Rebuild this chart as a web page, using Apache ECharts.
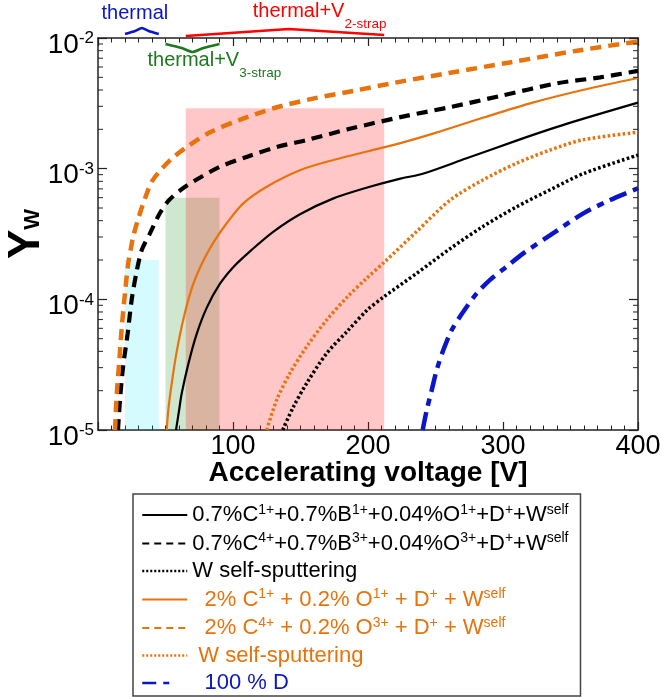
<!DOCTYPE html>
<html><head><meta charset="utf-8">
<script src="https://cdn.jsdelivr.net/npm/echarts@6/dist/echarts.min.js"></script>
<style>html,body{margin:0;padding:0;background:#fff}#c{width:662px;height:697px}</style>
</head><body><div id="c"></div>
<script>
const SANS = "'Liberation Sans',Arial,sans-serif";

// ---- data (x: accelerating voltage [V], y: Y_W) ----
const ksX = [57.8, 60, 62, 66.9, 73, 80.5, 90, 101, 114, 130, 150, 174, 200, 224, 240, 273, 310, 347, 400];
const ksY = [1e-5, 1.4e-5, 1.9e-5, 3.2e-5, 5.4e-5, 8.6e-5, 1.3e-4, 1.8e-4, 2.4e-4, 3.3e-4, 4.5e-4, 5.9e-4, 7.2e-4, 8.4e-4, 9.1e-4, 1.2e-3, 1.64e-3, 2.2e-3, 3.2e-3];

const kdX = [14.8, 16.3, 18.5, 22, 25, 28.7, 32.5, 38.5, 46, 53, 64, 76, 90, 110, 133, 155, 185, 224, 261, 298, 340, 372, 400];
const kdY = [1e-5, 1.7e-5, 3e-5, 5.5e-5, 1e-4, 1.65e-4, 2.4e-4, 3.2e-4, 4.6e-4, 5.8e-4, 7.2e-4, 8.6e-4, 1.03e-3, 1.23e-3, 1.47e-3, 1.66e-3, 2.0e-3, 2.48e-3, 2.96e-3, 3.6e-3, 4.5e-3, 5.0e-3, 5.6e-3];

const ktX = [136.8, 144.7, 154.6, 169.4, 185, 199, 212, 236, 261, 285, 310, 335, 360, 400];
const ktY = [1e-5, 1.5e-5, 2.28e-5, 3.86e-5, 5.75e-5, 8.2e-5, 1.05e-4, 1.58e-4, 2.45e-4, 3.6e-4, 5.1e-4, 6.9e-4, 9.2e-4, 1.27e-3];

const osX = [50.9, 52.1, 54.6, 58.3, 63.5, 70, 77, 85, 95.3, 107.6, 125, 150, 175, 200, 224, 250, 285, 322, 359, 400];
const osY = [1e-5, 1.43e-5, 2.27e-5, 3.98e-5, 7.24e-5, 1.26e-4, 1.88e-4, 2.67e-4, 3.82e-4, 5.43e-4, 7.28e-4, 9.77e-4, 1.17e-3, 1.36e-3, 1.57e-3, 1.88e-3, 2.45e-3, 3.2e-3, 4.0e-3, 4.94e-3];

const odX = [12.6, 13.9, 15.8, 17.6, 20, 22.4, 24.2, 26, 30, 35, 40, 47, 55, 66, 83, 105, 130, 160, 190, 220, 260, 305, 355, 400];
const odY = [1e-5, 1.9e-5, 3.4e-5, 6.1e-5, 1.12e-4, 1.89e-4, 2.4e-4, 3.0e-4, 4.2e-4, 6.0e-4, 8.0e-4, 9.9e-4, 1.2e-3, 1.47e-3, 1.9e-3, 2.36e-3, 2.9e-3, 3.45e-3, 3.95e-3, 4.55e-3, 5.4e-3, 6.5e-3, 8.0e-3, 9.4e-3];

const otX = [125, 132.4, 142.2, 154.6, 169.4, 185, 199, 212, 236, 261, 285, 310, 335, 359, 400];
const otY = [1e-5, 1.7e-5, 2.72e-5, 4.35e-5, 6.95e-5, 1.05e-4, 1.45e-4, 1.92e-4, 3.3e-4, 5.76e-4, 8.18e-4, 1.1e-3, 1.39e-3, 1.66e-3, 1.9e-3];

const bdX = [240.5, 243.5, 247.2, 250.9, 255.8, 262, 270.6, 280.5, 290.4, 302.7, 315, 335, 359.5, 379.3, 400];
const bdY = [1e-5, 1.42e-5, 2.02e-5, 2.88e-5, 4.09e-5, 5.82e-5, 8.04e-5, 1.11e-4, 1.41e-4, 1.78e-4, 2.25e-4, 3.1e-4, 4.55e-4, 5.75e-4, 7.08e-4];

// voltage bands (thermal, thermal+V3-strap, thermal+V2-strap)
const bandX0 = [20, 50, 65];
const bandX1 = [45, 90, 212];
const bandTop = [2e-4, 6e-4, 2.9e-3];

const xTicks = [0, 100, 200, 300, 400];
const yDecades = [1e-5, 1e-4, 1e-3, 1e-2];

const ORANGE = '#e8730c';
const BLUE = '#0a16c8';
const GREEN = '#1c7a1c';
const RED = '#ff0000';

function zip(xs, ys) { return xs.map((x, i) => [x, ys[i]]); }

const legendText = {
  KS: '{n|0.7%C}{s|1+}{n|+0.7%B}{s|1+}{n|+0.04%O}{s|1+}{n|+D}{s|+}{n|+W}{s|self}',
  KD: '{n|0.7%C}{s|4+}{n|+0.7%B}{s|3+}{n|+0.04%O}{s|3+}{n|+D}{s|+}{n|+W}{s|self}',
  KT: '{n|W self-sputtering}',
  OS: '{n|  2% C}{s|1+}{n| + 0.2% O}{s|1+}{n| + D}{s|+}{n| + W}{s|self}',
  OD: '{n|  2% C}{s|4+}{n| + 0.2% O}{s|3+}{n| + D}{s|+}{n| + W}{s|self}',
  OT: '{n| W self-sputtering}',
  BD: '{n|  100 % D}'
};

function lineSeries(name, xs, ys, color, width, type) {
  return {
    name: name, type: 'line', data: zip(xs, ys), symbol: 'none',
    smooth: 0.3, z: 3, silent: true,
    lineStyle: { color: color, width: width, type: type, cap: 'butt' },
    itemStyle: { color: color }
  };
}

const chart = echarts.init(document.getElementById('c'), null, { renderer: 'canvas' });

const axisCommon = {
  min: 0, max: 400, interval: 100,
  axisLine: { show: true, onZero: false, lineStyle: { color: '#222', width: 1.5 } },
  axisTick: { show: true, inside: true, length: 8, lineStyle: { color: '#222', width: 1.2 } },
  minorTick: { show: true, splitNumber: 10, length: 4.5, lineStyle: { color: '#222', width: 1 } },
  splitLine: { show: false }
};

const hideSym = { color: 'rgba(0,0,0,0)', borderColor: 'rgba(0,0,0,0)', borderWidth: 0, opacity: 0 };

const option = {
  animation: false,
  backgroundColor: '#fff',
  grid: { left: 98, right: 24, top: 38, bottom: 267, containLabel: false, outerBoundsMode: 'none' },
  xAxis: [
    Object.assign({}, axisCommon, {
      type: 'value', position: 'bottom',
      name: 'Accelerating voltage [V]', nameLocation: 'middle', nameGap: 28, nameMoveOverlap: false,
      nameTextStyle: { fontFamily: SANS, fontWeight: 'bold', fontSize: 28, color: '#000', lineHeight: 30 },
      axisLabel: {
        margin: 2, fontFamily: SANS, fontSize: 27, color: '#000', lineHeight: 30,
        formatter: v => (xTicks.indexOf(v) > 0 ? String(v) : '')
      }
    }),
    Object.assign({}, axisCommon, { type: 'value', position: 'top', axisLabel: { show: false } })
  ],
  yAxis: [
    {
      type: 'log', logBase: 10, min: yDecades[0], max: yDecades[yDecades.length - 1], position: 'left',
      axisLine: { show: true, onZero: false, lineStyle: { color: '#222', width: 1.5 } },
      axisTick: { show: true, inside: true, length: 9, lineStyle: { color: '#222', width: 1.2 } },
      splitLine: { show: false },
      name: '{y|Y}{w|W}', nameLocation: 'middle', nameGap: 49, nameRotate: 90, nameMoveOverlap: false,
      nameTextStyle: {
        rich: {
          y: { fontFamily: SANS, fontWeight: 'bold', fontSize: 44, lineHeight: 44, verticalAlign: 'top', color: '#000' },
          w: { fontFamily: SANS, fontWeight: 'bold', fontSize: 22, lineHeight: 22, verticalAlign: 'top', padding: [17, 0, 0, 0], color: '#000' }
        }
      },
      axisLabel: {
        margin: 4, padding: [14, 0, 0, 0],
        formatter: v => '{b|10}{s|' + Math.round(Math.log10(v)) + '}',
        rich: {
          b: { fontFamily: SANS, fontSize: 28, lineHeight: 30, color: '#000' },
          s: { fontFamily: SANS, fontSize: 17, lineHeight: 17, verticalAlign: 'top', color: '#000' }
        }
      }
    },
    {
      type: 'log', logBase: 10, min: yDecades[0], max: yDecades[yDecades.length - 1], position: 'right',
      axisLine: { show: true, onZero: false, lineStyle: { color: '#222', width: 1.5 } },
      axisTick: { show: true, inside: true, length: 9, lineStyle: { color: '#222', width: 1.2 } },
      axisLabel: { show: false }, splitLine: { show: false }
    }
  ],
  legend: {
    orient: 'vertical', left: 133, top: 494, height: 240,
    padding: [9, 12, 2, 8], itemGap: 5.5, itemWidth: 45, itemHeight: 14,
    borderColor: '#444', borderWidth: 1.5, backgroundColor: '#fff',
    selectedMode: false,
    formatter: name => legendText[name],
    textStyle: {
      fontFamily: SANS,
      rich: {
        n: { fontFamily: SANS, fontSize: 22, lineHeight: 24 },
        s: { fontFamily: SANS, fontSize: 14, lineHeight: 14, verticalAlign: 'top' }
      }
    },
    data: [
      { name: 'KS', textStyle: { color: '#000' }, itemStyle: hideSym, lineStyle: { width: 2.2, type: 'solid' } },
      { name: 'KD', textStyle: { color: '#000' }, itemStyle: hideSym, lineStyle: { width: 2, type: [7, 5] } },
      { name: 'KT', textStyle: { color: '#000' }, itemStyle: hideSym, lineStyle: { width: 2.5, type: [2, 2] } },
      { name: 'OS', textStyle: { color: ORANGE }, itemStyle: hideSym, lineStyle: { width: 2.2, type: 'solid' } },
      { name: 'OD', textStyle: { color: ORANGE }, itemStyle: hideSym, lineStyle: { width: 2, type: [7, 5] } },
      { name: 'OT', textStyle: { color: ORANGE }, itemStyle: hideSym, lineStyle: { width: 2.5, type: [2, 2] } },
      { name: 'BD', textStyle: { color: BLUE }, itemStyle: hideSym, lineStyle: { width: 2.5, type: [14, 7, 6, 30] } }
    ]
  },
  series: [
    {
      type: 'custom', name: 'bands', z: 1, silent: true,
      data: bandX0.map((x0, i) => [x0, bandX1[i], bandTop[i], i]),
      renderItem: function (params, api) {
        const i = api.value(3);
        const p0 = api.coord([api.value(0), api.value(2)]);
        const p1 = api.coord([api.value(1), yDecades[0]]);
        const fills = ['rgba(0,230,255,0.16)', 'rgba(0,128,0,0.19)', 'rgba(255,0,0,0.22)'];
        return { type: 'rect', shape: { x: p0[0], y: p0[1], width: p1[0] - p0[0], height: p1[1] - p0[1] }, style: { fill: fills[i] } };
      }
    },
    lineSeries('KS', ksX, ksY, '#000', 2.2, 'solid'),
    lineSeries('KD', kdX, kdY, '#000', 4.2, [11, 7]),
    lineSeries('KT', ktX, ktY, '#000', 3.5, [2.6, 2.4]),
    lineSeries('OS', osX, osY, ORANGE, 2.2, 'solid'),
    lineSeries('OD', odX, odY, ORANGE, 4.5, [11, 7]),
    lineSeries('OT', otX, otY, ORANGE, 3.5, [2.6, 2.4]),
    lineSeries('BD', bdX, bdY, BLUE, 4.5, [18, 7, 7, 7]),
    {
      type: 'custom', name: 'braces', z: 6, silent: true, clip: false,
      data: bandX0.map((x0, i) => [x0, bandX1[i], i]),
      renderItem: function (params, api) {
        const i = api.value(2);
        const a = api.coord([api.value(0), yDecades[3]]);
        const b = api.coord([api.value(1), yDecades[3]]);
        const top = a[1], x0 = a[0], x1 = b[0], xc = (x0 + x1) / 2, w = x1 - x0;
        const children = [];
        const richSub = (col) => ({
          m: { fontFamily: SANS, fontSize: 20, lineHeight: 24, verticalAlign: 'top', fill: col },
          s: { fontFamily: SANS, fontSize: 13.5, lineHeight: 14, verticalAlign: 'top', padding: [16, 0, 0, 0], fill: col }
        });
        if (i === 0) {
          children.push({ type: 'polyline', shape: { points: [[x0, top - 4], [x0 + w * 0.3, top - 7], [xc, top - 10], [x1 - w * 0.3, top - 7], [x1, top - 4]], smooth: 0.2 }, style: { stroke: BLUE, lineWidth: 2.6, fill: null } });
          children.push({ type: 'text', x: xc - 7, y: top - 25, style: { text: 'thermal', fontFamily: SANS, fontSize: 20, fill: BLUE, align: 'center', verticalAlign: 'middle' } });
        } else if (i === 1) {
          children.push({ type: 'polyline', shape: { points: [[x0, top + 6], [x0 + w * 0.3, top + 10], [xc, top + 14], [x1 - w * 0.3, top + 10], [x1, top + 6]], smooth: 0.2 }, style: { stroke: GREEN, lineWidth: 2.6, fill: null } });
          children.push({ type: 'text', x: x0 - 18, y: top + 12, style: {
            text: '{m|thermal+V}{s|3-strap}', fill: GREEN, align: 'left', verticalAlign: 'top', rich: richSub(GREEN) } });
        } else {
          const xp = x0 + w * 0.52;
          children.push({ type: 'polyline', shape: { points: [[x0, top - 2], [xp, top - 9], [x1, top - 3]] }, style: { stroke: RED, lineWidth: 2.6, fill: null } });
          children.push({ type: 'text', x: x0 + 67, y: top - 37, style: {
            text: '{m|thermal+V}{s|2-strap}', fill: RED, align: 'left', verticalAlign: 'top', rich: richSub(RED) } });
        }
        return { type: 'group', children: children };
      }
    },
    {
      type: 'custom', name: 'logMinorTicks', z: 7, silent: true, clip: false,
      data: [[0, yDecades[0]]],
      renderItem: function (params, api) {
        const children = [];
        for (let d = 0; d < yDecades.length - 1; d++) {
          for (let m = 2; m <= 9; m++) {
            const v = yDecades[d] * m;
            const l = api.coord([0, v]);
            const r = api.coord([400, v]);
            children.push({ type: 'line', shape: { x1: l[0], y1: l[1], x2: l[0] + 5, y2: l[1] }, style: { stroke: '#222', lineWidth: 1 } });
            children.push({ type: 'line', shape: { x1: r[0] - 5, y1: r[1], x2: r[0], y2: r[1] }, style: { stroke: '#222', lineWidth: 1 } });
          }
        }
        return { type: 'group', children: children };
      }
    }
  ]
};
chart.setOption(option);
</script>
</body></html>
